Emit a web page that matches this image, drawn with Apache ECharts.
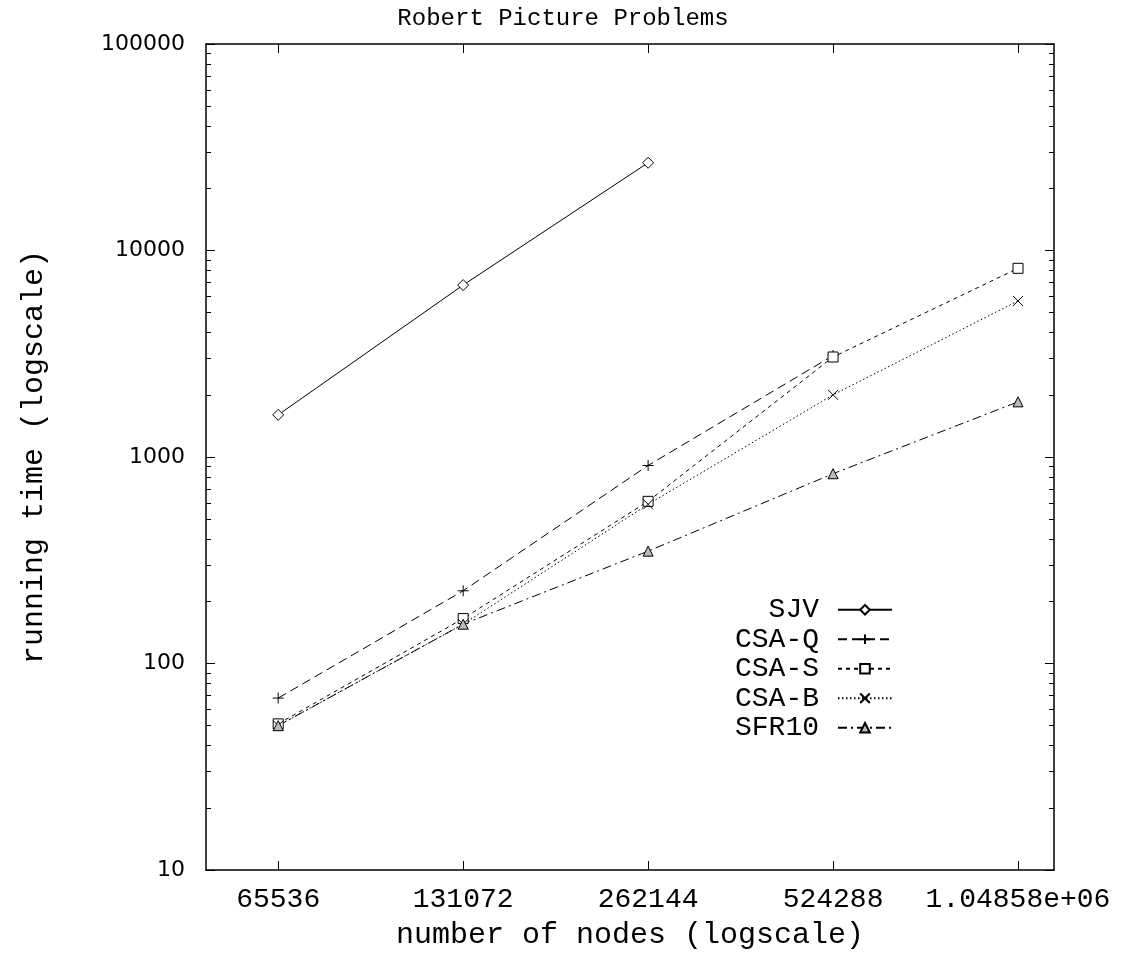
<!DOCTYPE html>
<html>
<head>
<meta charset="utf-8">
<script src="https://cdn.jsdelivr.net/npm/echarts@6/dist/echarts.min.js"></script>
<style>
html,body{margin:0;padding:0;background:#fff;}
#chart{width:1126px;height:955px;}
</style>
</head>
<body>
<div id="chart"></div>
<script>
// ---- data ----
const nodes = [65536, 131072, 262144, 524288, 1048576];
const xTickValues = [65536, 131072, 262144, 524288, 1048576];
const xTickLabels = ['65536', '131072', '262144', '524288', '1.04858e+06'];
const yMajorTicks = [10, 100, 1000, 10000, 100000];
const yTickLabels = ['10', '100', '1000', '10000', '100000'];
const seriesNames = ['SJV', 'CSA-Q', 'CSA-S', 'CSA-B', 'SFR10'];
const sjv   = [1600, 6800, 26600];
const csaQ  = [68, 225, 910, 3100];
const csaS  = [51, 165, 610, 3050, 8200];
const csaB  = [50, 155, 590, 2000, 5700];
const sfr10 = [50, 155, 350, 830, 1850];

const yMinorTicks = [];
for (let d = 10; d < 100000; d *= 10) {
  for (let k = 2; k <= 9; k++) yMinorTicks.push(d * k);
}

const pairs = vals => vals.map((v, i) => [nodes[i], v]);

const mono = 'Liberation Mono';
const plusPath = 'path://M0,5L10,5M5,0L5,10';
const crossPath = 'path://M0,0L10,10M0,10L10,0';

function mkSeries(name, vals, symbol, size, dash, fill) {
  return {
    name: name,
    type: 'line',
    data: pairs(vals),
    symbol: symbol,
    symbolSize: size,
    showAllSymbol: true,
    lineStyle: { color: '#000', width: 1, type: dash },
    itemStyle: { color: fill, borderColor: '#000', borderWidth: 1 },
    emphasis: { disabled: true },
    animation: false
  };
}

const xBase = {
  type: 'log', logBase: 2, min: 50000, max: 1200000,
  splitLine: { show: false }, minorTick: { show: false }
};
const yBase = {
  type: 'log', logBase: 10, min: 10, max: 100000,
  splitLine: { show: false }, minorTick: { show: false }
};

const option = {
  backgroundColor: '#fff',
  animation: false,
  title: {
    text: 'Robert Picture Problems',
    left: 'center', top: 2,
    textStyle: { fontFamily: mono, fontSize: 24, fontWeight: 'normal', color: '#000' }
  },
  grid: { left: 206, right: 72, top: 44, bottom: 80, containLabel: false },
  legend: {
    orient: 'vertical',
    right: 228, top: 590,
    align: 'right',
    itemWidth: 54, itemHeight: 12, itemGap: 0,
    data: seriesNames,
    textStyle: { fontFamily: mono, fontSize: 28, color: '#000', lineHeight: 29.5, padding: [0, 14, 0, 0] }
  },
  xAxis: [
    Object.assign({}, xBase, {
      position: 'bottom',
      name: 'number of nodes (logscale)', nameLocation: 'middle', nameGap: 50,
      nameTextStyle: { fontFamily: mono, fontSize: 30, color: '#000' },
      axisLine: { show: true, lineStyle: { color: '#000', width: 1.5 } },
      axisTick: { show: true, inside: true, length: 9, customValues: xTickValues, lineStyle: { color: '#000', width: 1 } },
      axisLabel: {
        show: true, customValues: xTickValues, margin: 16,
        fontFamily: mono, fontSize: 28, color: '#000',
        formatter: v => xTickLabels[xTickValues.indexOf(v)] !== undefined ? xTickLabels[xTickValues.indexOf(v)] : ''
      }
    }),
    Object.assign({}, xBase, {
      position: 'top',
      axisLine: { show: true, lineStyle: { color: '#000', width: 1.5 } },
      axisTick: { show: true, inside: true, length: 9, customValues: xTickValues, lineStyle: { color: '#000', width: 1 } },
      axisLabel: { show: false }
    })
  ],
  yAxis: [
    Object.assign({}, yBase, {
      position: 'left',
      name: 'running time (logscale)', nameLocation: 'middle', nameGap: 157, nameRotate: 90,
      nameTextStyle: { fontFamily: mono, fontSize: 30, color: '#000' },
      axisLine: { show: true, lineStyle: { color: '#000', width: 1.5 } },
      axisTick: { show: true, inside: true, length: 9, customValues: yMajorTicks, lineStyle: { color: '#000', width: 1 } },
      axisLabel: {
        show: true, customValues: yMajorTicks, margin: 21,
        fontFamily: 'DejaVu Sans', fontSize: 22, color: '#000',
        formatter: v => yTickLabels[yMajorTicks.indexOf(v)] !== undefined ? yTickLabels[yMajorTicks.indexOf(v)] : ''
      }
    }),
    Object.assign({}, yBase, {
      position: 'left',
      axisLine: { show: false },
      axisTick: { show: true, inside: true, length: 5, customValues: yMinorTicks, lineStyle: { color: '#000', width: 1 } },
      axisLabel: { show: false }
    }),
    Object.assign({}, yBase, {
      position: 'right',
      axisLine: { show: true, lineStyle: { color: '#000', width: 1.5 } },
      axisTick: { show: true, inside: true, length: 9, customValues: yMajorTicks, lineStyle: { color: '#000', width: 1 } },
      axisLabel: { show: false }
    }),
    Object.assign({}, yBase, {
      position: 'right',
      axisLine: { show: false },
      axisTick: { show: true, inside: true, length: 5, customValues: yMinorTicks, lineStyle: { color: '#000', width: 1 } },
      axisLabel: { show: false }
    })
  ],
  series: [
    mkSeries('SJV', sjv, 'diamond', 11, 'solid', '#fff'),
    mkSeries('CSA-Q', csaQ, plusPath, 11, [9, 5], '#fff'),
    mkSeries('CSA-S', csaS, 'rect', 10, [4, 4], '#fff'),
    mkSeries('CSA-B', csaB, crossPath, 10, [1.5, 2.5], '#fff'),
    mkSeries('SFR10', sfr10, 'triangle', 10, [9, 4, 2, 4], '#bbb')
  ]
};

const chart = echarts.init(document.getElementById('chart'), null, { renderer: 'canvas' });
chart.setOption(option);
</script>
</body>
</html>
